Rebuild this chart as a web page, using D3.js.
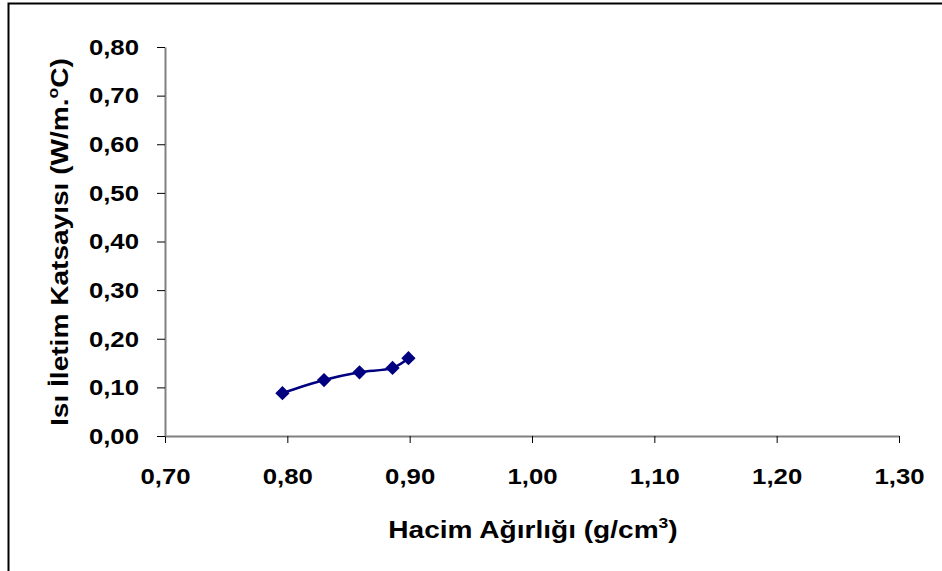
<!DOCTYPE html>
<html>
<head>
<meta charset="utf-8">
<script src="https://cdn.jsdelivr.net/npm/d3@7/dist/d3.min.js"></script>
<style>
html,body{margin:0;padding:0;background:#fff;}
svg text{font-family:"Liberation Sans",Arial,sans-serif;font-weight:bold;fill:#000;}
</style>
</head>
<body>
<svg id="chart" width="942" height="571"></svg>
<script>
// Data
const hacimAgirligi = [0.796, 0.830, 0.859, 0.886, 0.899];
const isiIletim = [0.088, 0.115, 0.131, 0.140, 0.160];
const xTicks = [0.70, 0.80, 0.90, 1.00, 1.10, 1.20, 1.30];
const yTicks = [0.00, 0.10, 0.20, 0.30, 0.40, 0.50, 0.60, 0.70, 0.80];
const xTitle = "Hacim Ağırlığı (g/cm";
const xTitleSup = "3";
const yTitle = "Isı İletim Katsayısı (W/m.";
const yTitleSup = "o";
const yTitleEnd = "C)";

const svg = d3.select("#chart");
const W = 942, H = 571;
svg.append("rect").attr("width", W).attr("height", H).attr("fill", "#fff");
// outer frame (extends beyond the window on right/bottom)
svg.append("rect").attr("x", 8.5).attr("y", 3.5).attr("width", 1200).attr("height", 1200)
  .attr("fill", "none").attr("stroke", "#000").attr("stroke-width", 2);

const x = d3.scaleLinear().domain([0.7, 1.3]).range([165, 899]);
const y = d3.scaleLinear().domain([0, 0.8]).range([436, 47]);
const fmt = d => d3.format(".2f")(d).replace(".", ",");
const tickStretch = 1.12, titleStretch = 1.17;

const xAxis = svg.append("g").attr("transform", "translate(0,436)")
  .call(d3.axisBottom(x).tickValues(xTicks).tickFormat(fmt).tickSizeInner(7).tickSizeOuter(0).tickPadding(25));
const yAxis = svg.append("g").attr("transform", "translate(165,0)")
  .call(d3.axisLeft(y).tickValues(yTicks).tickFormat(fmt).tickSizeInner(8).tickSizeOuter(0).tickPadding(26 / tickStretch - 8));

[xAxis, yAxis].forEach(a => {
  a.attr("font-family", null).attr("font-size", null);
  a.select(".domain").attr("stroke", "#808080").attr("stroke-width", 2);
  a.selectAll(".tick line").attr("stroke", "#000").attr("stroke-width", 1);
  a.selectAll(".tick text").style("font-size", "23px").attr("transform", `scale(${tickStretch},1)`);
});

// smoothed line
const pts = hacimAgirligi.map((v, i) => [v, isiIletim[i]]);
const line = d3.line().x(d => x(d[0])).y(d => y(d[1])).curve(d3.curveCatmullRom.alpha(0.5));
svg.append("path").datum(pts).attr("d", line).attr("fill", "none")
  .attr("stroke", "#000080").attr("stroke-width", 2.5);

const sym = d3.symbol().type(d3.symbolDiamond2).size(130);
svg.selectAll(".pt").data(pts).join("path").attr("class", "pt")
  .attr("transform", d => `translate(${x(d[0])},${y(d[1])})`)
  .attr("d", sym).attr("fill", "#000080");

// axis titles
const xt = svg.append("text").attr("transform", `translate(533,538) scale(${titleStretch},1)`)
  .attr("text-anchor", "middle").style("font-size", "24px");
xt.append("tspan").text(xTitle);
xt.append("tspan").text(xTitleSup).attr("dy", -10).style("font-size", "15px");
xt.append("tspan").text(")").attr("dy", 10);

const yt = svg.append("text").attr("transform", `translate(68,242) rotate(-90) scale(${titleStretch},1)`)
  .attr("text-anchor", "middle").style("font-size", "24px");
yt.append("tspan").text(yTitle);
yt.append("tspan").text(yTitleSup).attr("dy", -10).style("font-size", "15px");
yt.append("tspan").text(yTitleEnd).attr("dy", 10);
</script>
</body>
</html>
